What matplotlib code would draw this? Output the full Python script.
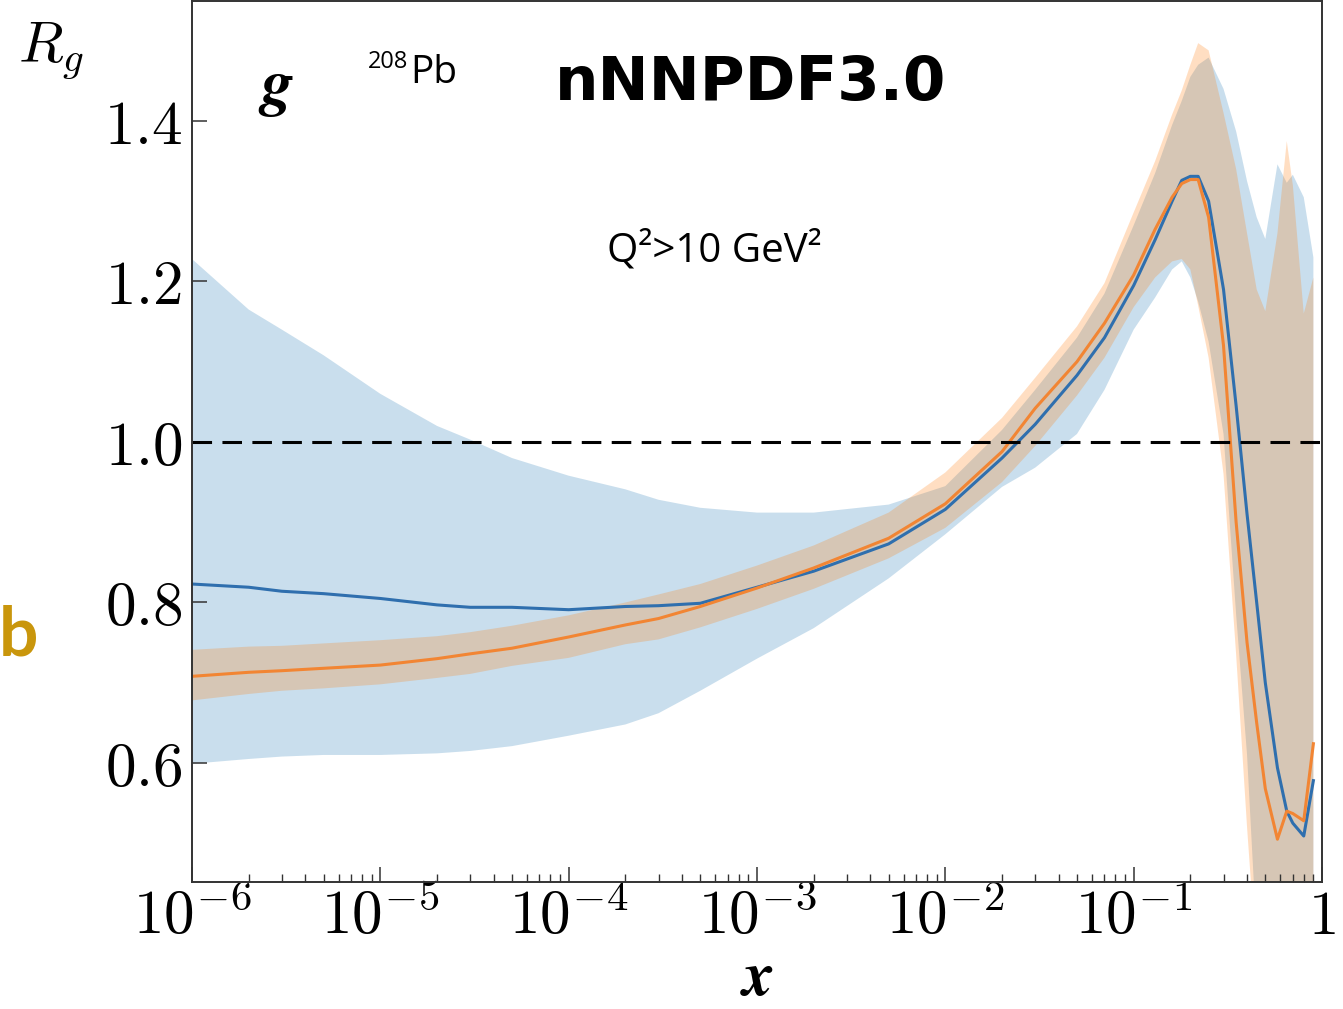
import numpy as np
import matplotlib
matplotlib.use("Agg")
import matplotlib.pyplot as plt
from matplotlib.ticker import FixedLocator, FixedFormatter, NullFormatter

# ---------------- data ----------------
x = [1e-6, 2e-6, 3e-6, 5e-6, 1e-5, 2e-5, 3e-5, 5e-5, 1e-4, 2e-4, 3e-4, 5e-4,
     1e-3, 2e-3, 5e-3, 1e-2, 0.02, 0.03, 0.05, 0.07, 0.1, 0.13, 0.16, 0.18,
     0.2, 0.22, 0.25, 0.3, 0.35, 0.4, 0.45, 0.5, 0.58, 0.65, 0.7, 0.8, 0.9]

blue_central = [0.823, 0.819, 0.814, 0.811, 0.805, 0.797, 0.794, 0.794, 0.791, 0.795, 0.796, 0.799,
                0.819, 0.839, 0.873, 0.916, 0.980, 1.022, 1.083, 1.130, 1.195, 1.252, 1.300, 1.326,
                1.331, 1.331, 1.300, 1.190, 1.045, 0.910, 0.800, 0.700, 0.594, 0.540, 0.525, 0.509, 0.578]
blue_upper = [1.228, 1.165, 1.140, 1.108, 1.060, 1.020, 1.003, 0.980, 0.958, 0.941, 0.928, 0.918,
              0.912, 0.912, 0.922, 0.945, 1.015, 1.065, 1.130, 1.185, 1.270, 1.335, 1.395, 1.425,
              1.455, 1.470, 1.479, 1.440, 1.387, 1.325, 1.280, 1.253, 1.346, 1.323, 1.333, 1.305, 1.230]
blue_lower = [0.599, 0.605, 0.608, 0.610, 0.610, 0.612, 0.615, 0.621, 0.634, 0.648, 0.662, 0.690,
              0.730, 0.768, 0.830, 0.885, 0.944, 0.968, 1.010, 1.065, 1.140, 1.180, 1.215, 1.225,
              1.205, 1.175, 1.125, 1.010, 0.785, 0.610, 0.384, 0.250, 0.200, 0.200, 0.200, 0.200, 0.200]

orange_central = [0.708, 0.713, 0.715, 0.718, 0.722, 0.730, 0.736, 0.743, 0.757, 0.772, 0.780, 0.795,
                  0.818, 0.843, 0.880, 0.923, 0.988, 1.042, 1.100, 1.148, 1.208, 1.265, 1.305, 1.322,
                  1.327, 1.327, 1.280, 1.120, 0.900, 0.750, 0.650, 0.568, 0.505, 0.540, 0.537, 0.528, 0.624]
orange_upper = [0.741, 0.745, 0.746, 0.749, 0.753, 0.758, 0.763, 0.771, 0.784, 0.800, 0.810, 0.823,
                0.846, 0.871, 0.912, 0.962, 1.030, 1.080, 1.144, 1.198, 1.286, 1.350, 1.408, 1.438,
                1.470, 1.497, 1.488, 1.410, 1.340, 1.260, 1.190, 1.163, 1.260, 1.375, 1.320, 1.160, 1.205]
orange_lower = [0.678, 0.686, 0.690, 0.693, 0.698, 0.706, 0.711, 0.721, 0.731, 0.748, 0.754, 0.769,
                0.792, 0.817, 0.855, 0.893, 0.950, 0.995, 1.058, 1.105, 1.168, 1.205, 1.225, 1.228,
                1.215, 1.170, 1.105, 0.960, 0.735, 0.520, 0.350, 0.250, 0.200, 0.200, 0.200, 0.200, 0.200]

x_ticks = [1e-6, 1e-5, 1e-4, 1e-3, 1e-2, 1e-1, 1]
x_tick_labels = [r"$10^{-6}$", r"$10^{-5}$", r"$10^{-4}$", r"$10^{-3}$", r"$10^{-2}$", r"$10^{-1}$", r"$1$"]
y_ticks = [0.6, 0.8, 1.0, 1.2, 1.4]
y_tick_labels = [r"$0.6$", r"$0.8$", r"$1.0$", r"$1.2$", r"$1.4$"]

# ---------------- style ----------------
plt.rcParams["mathtext.fontset"] = "cm"
W, H = 1343, 1009
BLUE = "#2f6fae"
ORANGE = "#f28533"
BLUE_FILL = "#1f77b4"
ORANGE_FILL = "#ff7f0e"
SPINE = "#333333"

fig = plt.figure(figsize=(W / 100, H / 100), dpi=100)
ax = fig.add_axes([192 / W, 1 - 882 / H, 1130 / W, 881 / H])

ax.fill_between(x, blue_lower, blue_upper, color=BLUE_FILL, alpha=0.24, linewidth=0)
ax.fill_between(x, orange_lower, orange_upper, color=ORANGE_FILL, alpha=0.25, linewidth=0)
ax.plot(x, blue_central, color=BLUE, lw=2.2)
ax.plot(x, orange_central, color=ORANGE, lw=2.2)
ax.axhline(1.0, color="black", lw=2.2, dashes=(6.4, 3.4))

ax.set_xscale("log")
ax.set_xlim(1e-6, 1)
ax.set_ylim(0.4517, 1.5495)

minor_ticks = [m * 10.0 ** e for e in range(-6, 0) for m in range(2, 10)]
ax.xaxis.set_major_locator(FixedLocator(x_ticks))
ax.xaxis.set_major_formatter(FixedFormatter(x_tick_labels))
ax.xaxis.set_minor_locator(FixedLocator(minor_ticks))
ax.xaxis.set_minor_formatter(NullFormatter())
ax.yaxis.set_major_locator(FixedLocator(y_ticks))
ax.yaxis.set_major_formatter(FixedFormatter(y_tick_labels))
ax.yaxis.set_minor_locator(FixedLocator([]))

ax.tick_params(axis="both", which="major", direction="in", length=10.5, width=1.1,
               color=SPINE, labelsize=44)
ax.tick_params(axis="x", which="minor", direction="in", length=5.5, width=1.0, color=SPINE)
ax.tick_params(axis="x", which="major", pad=4)
ax.tick_params(axis="y", which="major", pad=7)
for s in ax.spines.values():
    s.set_color(SPINE)
    s.set_linewidth(1.4)

# axis labels
ax.set_xlabel(r"$\mathbfit{x}$", math_fontfamily="stix", fontsize=45)
ax.xaxis.set_label_coords((757 - 192) / 1130, -(1008 - 882) / 881)
ax.xaxis.label.set_va("bottom")
ax.set_ylabel(r"$R_g$", rotation=0, fontsize=42)
ax.yaxis.set_label_coords((18 - 192) / 1130, (882 - 62) / 881)
ax.yaxis.label.set_ha("left")
ax.yaxis.label.set_va("baseline")


def ftext(px, py, s, **kw):
    fig.text(px / W, 1 - py / H, s, **kw)


ftext(258, 104, r"$\mathbfit{g}$", math_fontfamily="stix",
      fontsize=46, va="baseline", ha="left")
ftext(368, 68, "208", family="Open Sans", fontsize=17, va="baseline", ha="left")
ftext(410, 83, "Pb", family="Open Sans", fontsize=28, va="baseline", ha="left")
ftext(555, 100, "nNNPDF3.0", family="DejaVu Sans", weight="bold", fontsize=44,
      va="baseline", ha="left")
ftext(607, 262, "Q²>10 GeV²", family="Open Sans", fontsize=29, va="baseline", ha="left")
ftext(-1, 655, "b", family="Lato", weight="bold", fontsize=50, color="#C9960C",
      va="baseline", ha="left")

fig.savefig("out.png", dpi=100)
